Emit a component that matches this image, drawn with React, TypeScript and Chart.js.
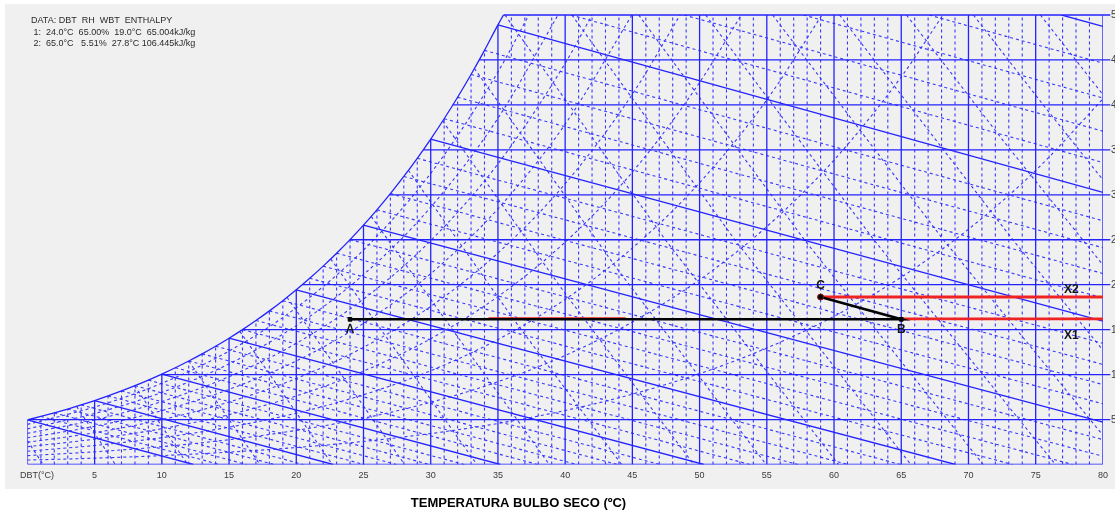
import React, { useEffect, useRef } from "react";
import { Chart, registerables } from "chart.js";

Chart.register(...registerables);

// ---- axis ticks ----
const DBT_TICKS = [5, 10, 15, 20, 25, 30, 35, 40, 45, 50, 55, 60, 65, 70, 75, 80];
const W_TICKS = [5, 10, 15, 20, 25, 30, 35, 40, 45, 50];
const W_TICK_LABELS = ["5", "10", "15", "20", "25", "30", "35", "40", "45", "50"];

// ---- saturation curve (DBT °C, humidity ratio g/kg) ----
const SAT_T = [0, 1, 2, 3, 4, 5, 6, 7, 8, 9, 10, 11, 12, 13, 14, 15, 16, 17, 18, 19, 20, 21, 22, 23, 24, 25, 26, 27, 28, 29, 30, 31, 32, 33, 34, 35, 35.41];
const SAT_W = [4.964, 5.34, 5.741, 6.169, 6.624, 7.11, 7.628, 8.179, 8.766, 9.39, 10.054, 10.76, 11.51, 12.307, 13.153, 14.051, 15.005, 16.016, 17.089, 18.227, 19.432, 20.711, 22.064, 23.499, 25.017, 26.626, 28.329, 30.131, 32.04, 34.059, 36.196, 38.458, 40.851, 43.384, 46.062, 48.899, 50];

// horizontal humidity lines start on the saturation curve at these DBT
const H_START_T = [0.1, 9.92, 15.99, 20.44, 23.99, 26.93, 29.44, 31.64, 33.6, 35.41];

// ---- relative humidity curves (values at DBT 0,5,10,...) ----
const RH_T = [0, 5, 10, 15, 20, 25, 30, 35, 40, 45, 50, 55, 60, 65, 70, 75, 80];
const RH10 = [0.493, 0.704, 0.991, 1.377, 1.89, 2.564, 3.44, 4.567, 6.005, 7.824, 10.107, 12.956, 16.485, 20.836, 26.176, 32.704, 40.664];
const RH20 = [0.986, 1.409, 1.985, 2.76, 3.792, 5.149, 6.917, 9.201, 12.126, 15.847, 20.548, 26.463, 33.867, 43.115];
const RH30 = [1.481, 2.116, 2.982, 4.15, 5.705, 7.755, 10.434, 13.904, 18.368, 24.077, 31.34, 40.557];
const RH40 = [1.976, 2.825, 3.983, 5.546, 7.63, 10.384, 13.99, 18.678, 24.735, 32.522, 42.5];
const RH50 = [2.472, 3.535, 4.987, 6.947, 9.567, 13.034, 17.587, 23.524, 31.229, 41.191];
const RH60 = [2.969, 4.247, 5.994, 8.355, 11.516, 15.706, 21.224, 28.444, 37.855];
const RH70 = [3.466, 4.96, 7.004, 9.77, 13.476, 18.402, 24.903, 33.44, 44.62];
const RH80 = [3.965, 5.675, 8.017, 11.191, 15.45, 21.119, 28.624, 38.513];
const RH90 = [4.464, 6.392, 9.034, 12.618, 17.435, 23.861, 32.389, 43.665];
const RH_CURVES = [RH10, RH20, RH30, RH40, RH50, RH60, RH70, RH80, RH90];
// DBT where each curve leaves the top of the chart (null = reaches 80 °C)
const RH_TOP_T = [null, 68.1, 59.1, 53.1, 48.55, 44.97, 42.0, 39.47, 37.3];

// ---- wet-bulb lines, WBT = 0..40 °C ----
const WB_START_T = [0, 1, 2, 3, 4, 5, 6, 7, 8, 9, 10, 11, 12, 13, 14, 15, 16, 17, 18, 19, 20, 21, 22, 23, 24, 25, 26, 27, 28, 29, 30, 31, 32, 33, 34, 35, 40.44, 48.85, 57.73, 67.08, 76.93];
const WB_START_W = [4.964, 5.34, 5.741, 6.169, 6.624, 7.11, 7.628, 8.179, 8.766, 9.39, 10.054, 10.76, 11.51, 12.307, 13.153, 14.051, 15.005, 16.016, 17.089, 18.227, 19.432, 20.711, 22.064, 23.499, 25.017, 26.626, 28.329, 30.131, 32.04, 34.059, 36.196, 38.458, 40.851, 43.384, 46.062, 48.899, 50, 50, 50, 50, 50];
const WB_END_T = [12.34, 14.29, 16.29, 18.37, 20.52, 22.74, 25.05, 27.44, 29.92, 32.5, 35.18, 37.97, 40.87, 43.89, 47.04, 50.32, 53.75, 57.32, 61.05, 64.95, 69.03, 73.29, 77.75, 80, 80, 80, 80, 80, 80, 80, 80, 80, 80, 80, 80, 80, 80, 80, 80, 80, 80];
const WB_END_W = [0, 0, 0, 0, 0, 0, 0, 0, 0, 0, 0, 0, 0, 0, 0, 0, 0, 0, 0, 0, 0, 0, 0, 0.92, 2.77, 4.72, 6.75, 8.89, 11.13, 13.48, 15.94, 18.53, 21.25, 24.11, 27.11, 30.27, 33.59, 37.08, 40.77, 44.64, 48.73];

// ---- specific volume lines (1.02 .. 1.40 m³/kg) ----
const VOL_T = [
  [0, 1.17], [3.66, 6.54], [7.97, 11.92], [12.0, 17.3], [15.8, 22.68], [19.31, 28.06],
  [22.56, 33.44], [25.57, 38.82], [28.34, 36.06, 44.2], [30.89, 39.96, 49.57],
  [33.25, 43.75, 54.95], [35.52, 47.45, 60.33], [40.5, 52.62, 65.71], [45.47, 57.79, 71.09],
  [50.45, 62.96, 76.47], [55.43, 68.13, 80], [60.41, 73.3, 80], [65.39, 72.59, 80],
  [70.37, 75.56, 80], [75.35, 80],
];
const VOL_W = [
  [2.655, 0], [6.47, 0], [8.75, 0], [11.51, 0], [14.81, 0], [18.6, 0],
  [22.87, 0], [27.6, 0], [32.73, 16.37, 0], [38.21, 19.1, 0],
  [44.05, 22.0, 0], [50, 25, 0], [50, 25, 0], [50, 25, 0],
  [50, 25, 0], [50, 25, 3.253], [50, 25, 12.73], [50, 36, 22.2],
  [50, 40, 31.67], [50, 41.15],
];

// ---- process points ----
const POINT_NAMES = ["A", "B", "C"];
const POINT_T = [24, 65, 59];
const POINT_W = [16.15, 16.15, 18.63];
const X_NAMES = ["X1", "X2"];
const X_START_T = [65, 59];
const X_W = [16.2, 18.63];
const RED_SEG_T = [34.3, 44.5];
const RED_SEG_W = 16.25;

const DATA_LINES = [
  "DATA: DBT  RH  WBT  ENTHALPY",
  " 1:  24.0°C  65.00%  19.0°C  65.004kJ/kg",
  " 2:  65.0°C   5.51%  27.8°C 106.445kJ/kg",
];
const TITLE = "TEMPERATURA BULBO SECO (ºC)";

const SOLID = "rgb(35,35,255)";
const DASHC = "rgb(55,55,255)";
const DASH = [3, 3];

function line(points: { x: number; y: number }[], color: string, width: number, dash: number[], order: number, extra: any = {}) {
  return {
    data: points,
    showLine: true,
    borderColor: color,
    backgroundColor: color,
    borderWidth: width,
    borderDash: dash,
    pointRadius: 0,
    pointHoverRadius: 0,
    fill: false,
    order,
    ...extra,
  };
}

function buildDatasets() {
  const sets: any[] = [];
  // vertical DBT lines
  for (let t = 0; t <= 80; t++) {
    const top = t < SAT_W.length - 1 ? SAT_W[t] : 50;
    const solid = t % 5 === 0;
    sets.push(line([{ x: t, y: 0 }, { x: t, y: top }], solid ? SOLID : DASHC, solid ? 1.3 : 1.1, solid ? [] : DASH, 10));
  }
  // horizontal humidity ratio lines
  W_TICKS.forEach((w, i) => {
    sets.push(line([{ x: H_START_T[i], y: w }, { x: 80.55, y: w }], SOLID, 1.3, [], 10, { clip: false }));
  });
  sets.push(line([{ x: 0, y: 0 }, { x: 80, y: 0 }], SOLID, 1.4, [], 10));
  // saturation curve
  sets.push(line(SAT_T.map((t, i) => ({ x: t, y: SAT_W[i] })), SOLID, 1.3, [], 9, { cubicInterpolationMode: "monotone" }));
  // RH curves
  RH_CURVES.forEach((arr, k) => {
    const pts = arr.map((w, i) => ({ x: RH_T[i], y: w }));
    const topT = RH_TOP_T[k];
    if (topT !== null) pts.push({ x: topT, y: 50 });
    sets.push(line(pts, DASHC, 1.1, DASH, 10, { cubicInterpolationMode: "monotone" }));
  });
  // wet bulb lines
  WB_START_T.forEach((t, i) => {
    const solid = i % 5 === 0;
    sets.push(line([{ x: t, y: WB_START_W[i] }, { x: WB_END_T[i], y: WB_END_W[i] }], solid ? SOLID : DASHC, solid ? 1.3 : 1.1, solid ? [] : DASH, 10));
  });
  // specific volume lines
  VOL_T.forEach((ts, i) => {
    sets.push(line(ts.map((t, j) => ({ x: t, y: VOL_W[i][j] })), DASHC, 1.1, DASH, 10));
  });
  // process
  sets.push(line([{ x: RED_SEG_T[0], y: RED_SEG_W }, { x: RED_SEG_T[1], y: RED_SEG_W }], "rgb(235,30,30)", 2.2, [], 3));
  X_START_T.forEach((t, i) => {
    sets.push(line([{ x: t, y: X_W[i] }, { x: 80, y: X_W[i] }], "rgb(240,35,35)", 2.8, [], 2));
  });
  sets.push(line(POINT_T.map((t, i) => ({ x: t, y: POINT_W[i] })), "#000", 2.6, [], 1));
  sets.push({
    data: POINT_T.map((t, i) => ({ x: t, y: POINT_W[i] })),
    showLine: false,
    pointStyle: ["rect", "rect", "circle"],
    pointRadius: [2.6, 2.6, 3],
    pointBackgroundColor: "#000",
    pointBorderColor: ["#000", "#000", "#8a1010"],
    pointBorderWidth: 1,
    order: 0,
  });
  return sets;
}

const textPlugin = {
  id: "psychroText",
  beforeDraw(chart: any) {
    const ctx = chart.ctx;
    ctx.save();
    ctx.fillStyle = "#ffffff";
    ctx.fillRect(0, 0, chart.width, chart.height);
    ctx.fillStyle = "#f0f0f0";
    ctx.fillRect(5, 4, chart.width - 5, 485);
    ctx.restore();
  },
  afterDraw(chart: any) {
    const ctx = chart.ctx;
    const xs = chart.scales.x;
    const ys = chart.scales.y;
    ctx.save();
    // x ticks
    ctx.font = "9px Arial, 'Liberation Sans', sans-serif";
    ctx.fillStyle = "#3a3a3a";
    ctx.textAlign = "center";
    ctx.textBaseline = "middle";
    DBT_TICKS.forEach((t) => ctx.fillText(String(t), xs.getPixelForValue(t), 476));
    ctx.textAlign = "left";
    ctx.fillText("DBT(°C)", 20, 476);
    // y ticks (right)
    ctx.font = "10px Arial, 'Liberation Sans', sans-serif";
    W_TICKS.forEach((w, i) => ctx.fillText(W_TICK_LABELS[i], 1111, ys.getPixelForValue(w) + 0.5));
    // data box
    ctx.font = "9px Arial, 'Liberation Sans', sans-serif";
    ctx.fillStyle = "#2a2a2a";
    const dy = [20.5, 32.5, 44];
    DATA_LINES.forEach((s, i) => ctx.fillText(s, 31, dy[i]));
    // point labels
    ctx.font = "bold 12px Arial, 'Liberation Sans', sans-serif";
    ctx.fillStyle = "#151515";
    ctx.textAlign = "center";
    const offs = [10, 10, -11];
    POINT_NAMES.forEach((n, i) => {
      ctx.fillText(n, xs.getPixelForValue(POINT_T[i]), ys.getPixelForValue(POINT_W[i]) + offs[i]);
    });
    const xoffs = [17, -7];
    X_NAMES.forEach((n, i) => {
      ctx.fillText(n, xs.getPixelForValue(77.65), ys.getPixelForValue(X_W[i]) + xoffs[i]);
    });
    // title
    ctx.font = "bold 13px Arial, 'Liberation Sans', sans-serif";
    ctx.fillStyle = "#000";
    ctx.fillText(TITLE, 518.5, 503);
    ctx.restore();
  },
};

export default function App() {
  const ref = useRef<HTMLCanvasElement | null>(null);
  useEffect(() => {
    if (!ref.current) return;
    const chart = new Chart(ref.current, {
      type: "scatter",
      data: { datasets: buildDatasets() },
      options: {
        animation: false,
        responsive: false,
        devicePixelRatio: 1,
        events: [],
        layout: { padding: { left: 27.4, right: 12.1, top: 15, bottom: 49.5 } },
        scales: {
          x: { type: "linear", min: 0, max: 80, display: false },
          y: { type: "linear", min: 0, max: 50, display: false },
        },
        plugins: { legend: { display: false }, tooltip: { enabled: false }, title: { display: false } },
      },
      plugins: [textPlugin],
    } as any);
    return () => chart.destroy();
  }, []);
  return (
    <div style={{ position: "fixed", left: 0, top: 0, width: 1115, height: 514, background: "#fff" }}>
      <canvas ref={ref} width={1115} height={514} style={{ display: "block", width: 1115, height: 514 }} />
    </div>
  );
}
